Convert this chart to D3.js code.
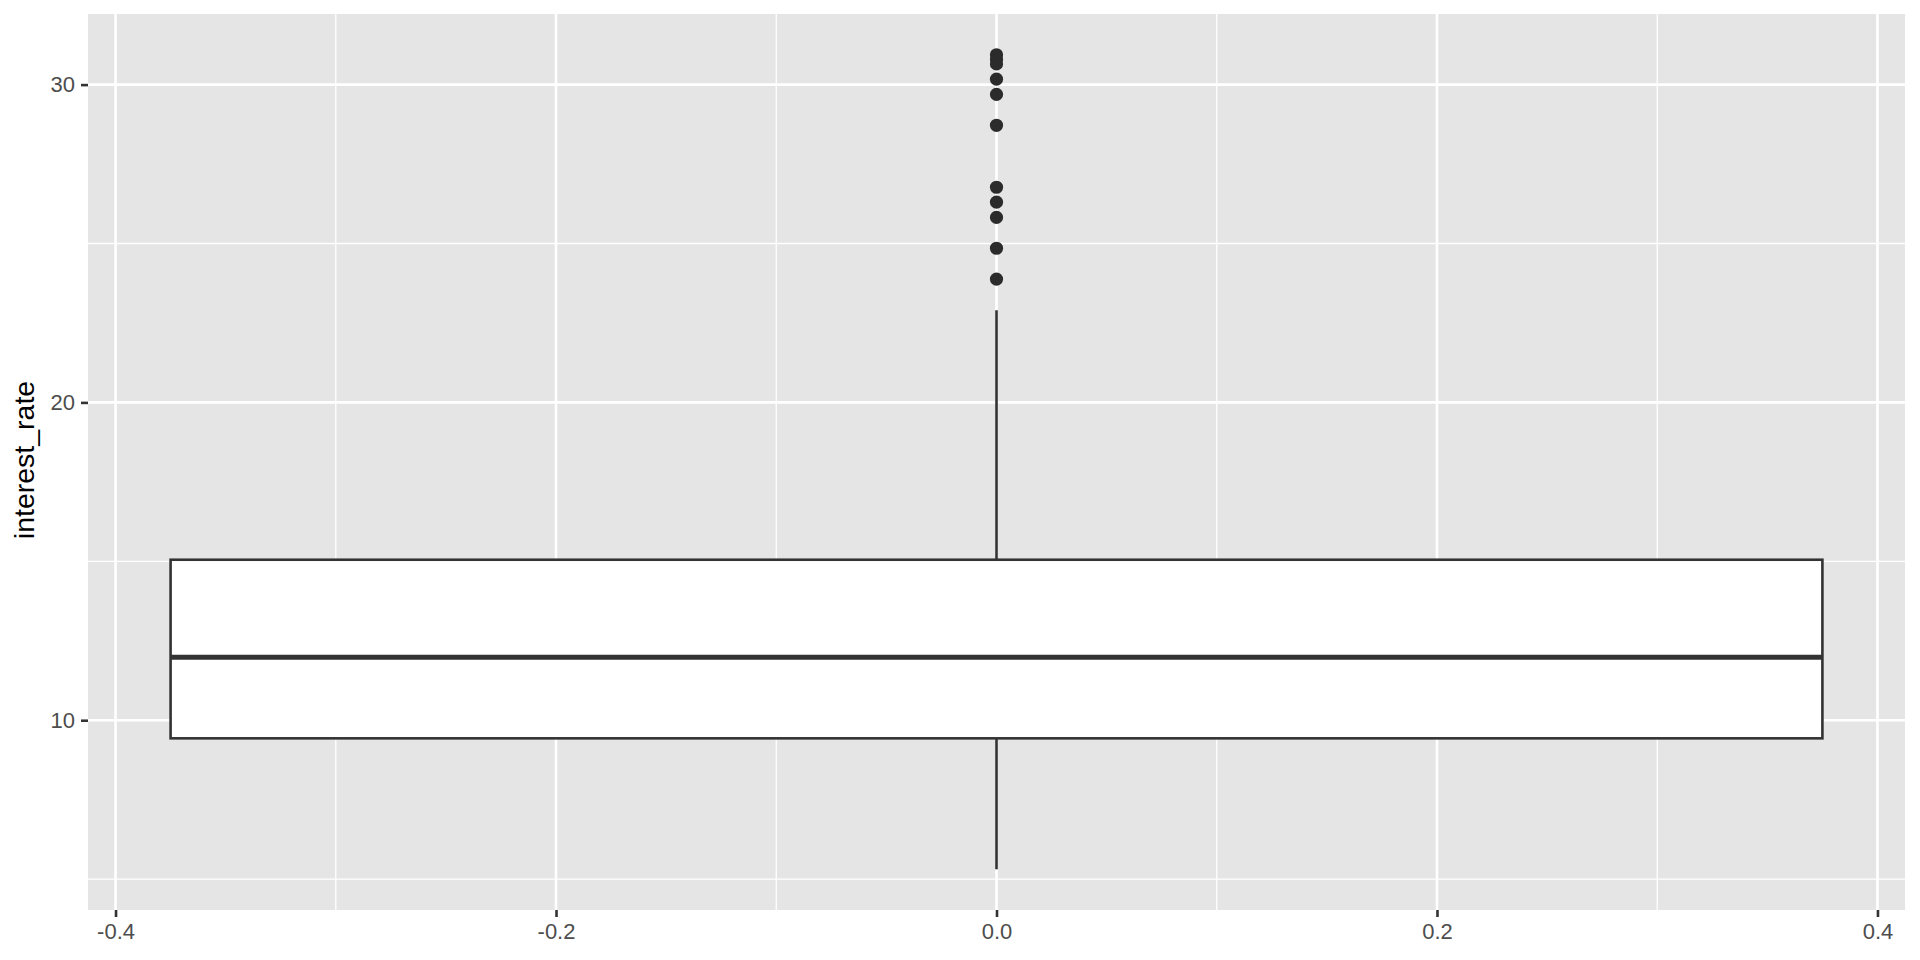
<!DOCTYPE html>
<html>
<head>
<meta charset="utf-8">
<script src="https://cdn.jsdelivr.net/npm/d3@7"></script>
<style>
  html, body { margin: 0; padding: 0; background: #ffffff; }
  svg { display: block; }
  text { font-family: "Liberation Sans", Arial, Helvetica, sans-serif; }
</style>
</head>
<body>
<svg id="chart" width="1920" height="960"></svg>
<script>
// ---- Data ----
const boxCenter = [0];
const boxWidth = [0.75];
const lowerWhisker = [5.31];
const q1 = [9.43];
const median = [11.98];
const q3 = [15.05];
const upperWhisker = [22.90];
const outliers = [30.94, 30.79, 30.65, 30.17, 29.69, 28.72, 26.77, 26.30, 25.82, 24.85, 23.88];
const xTicks = [-0.4, -0.2, 0.0, 0.2, 0.4];
const xMinor = [-0.3, -0.1, 0.1, 0.3];
const yTicks = [10, 20, 30];
const yMinor = [5, 15, 25];
const yTitle = "interest_rate";

// ---- Layout ----
const panel = { left: 88, right: 1905, top: 14, bottom: 910 };
const svg = d3.select("#chart");

const xLo = boxCenter[0] - boxWidth[0] / 2, xHi = boxCenter[0] + boxWidth[0] / 2;
const xPad = (xHi - xLo) * 0.05;
const x = d3.scaleLinear().domain([xLo - xPad, xHi + xPad]).range([panel.left, panel.right]);

const yLo = d3.min([lowerWhisker[0], ...outliers]);
const yHi = d3.max([upperWhisker[0], ...outliers]);
const yPad = (yHi - yLo) * 0.05;
const y = d3.scaleLinear().domain([yLo - yPad, yHi + yPad]).range([panel.bottom, panel.top]);

// panel background
svg.append("rect")
  .attr("x", panel.left).attr("y", panel.top)
  .attr("width", panel.right - panel.left).attr("height", panel.bottom - panel.top)
  .attr("fill", "#E5E5E5");

const grid = svg.append("g");
// minor grid
grid.selectAll(".xminor").data(xMinor).enter().append("line")
  .attr("x1", d => x(d)).attr("x2", d => x(d))
  .attr("y1", panel.top).attr("y2", panel.bottom)
  .attr("stroke", "#ffffff").attr("stroke-width", 1.3);
grid.selectAll(".yminor").data(yMinor).enter().append("line")
  .attr("y1", d => y(d)).attr("y2", d => y(d))
  .attr("x1", panel.left).attr("x2", panel.right)
  .attr("stroke", "#ffffff").attr("stroke-width", 1.3);
// major grid
grid.selectAll(".xmajor").data(xTicks).enter().append("line")
  .attr("x1", d => x(d)).attr("x2", d => x(d))
  .attr("y1", panel.top).attr("y2", panel.bottom)
  .attr("stroke", "#ffffff").attr("stroke-width", 2.6);
grid.selectAll(".ymajor").data(yTicks).enter().append("line")
  .attr("y1", d => y(d)).attr("y2", d => y(d))
  .attr("x1", panel.left).attr("x2", panel.right)
  .attr("stroke", "#ffffff").attr("stroke-width", 2.6);

// ---- Boxplot ----
const lineCol = "#333333";
const g = svg.append("g");
const cx = x(boxCenter[0]);
// whiskers
g.append("line").attr("x1", cx).attr("x2", cx)
  .attr("y1", y(q3[0])).attr("y2", y(upperWhisker[0]))
  .attr("stroke", lineCol).attr("stroke-width", 2.6);
g.append("line").attr("x1", cx).attr("x2", cx)
  .attr("y1", y(q1[0])).attr("y2", y(lowerWhisker[0]))
  .attr("stroke", lineCol).attr("stroke-width", 2.6);
// box
g.append("rect")
  .attr("x", x(xLo)).attr("width", x(xHi) - x(xLo))
  .attr("y", y(q3[0])).attr("height", y(q1[0]) - y(q3[0]))
  .attr("fill", "#ffffff").attr("stroke", lineCol).attr("stroke-width", 2.6);
// median
g.append("line").attr("x1", x(xLo)).attr("x2", x(xHi))
  .attr("y1", y(median[0])).attr("y2", y(median[0]))
  .attr("stroke", lineCol).attr("stroke-width", 5);
// outliers
g.selectAll("circle").data(outliers).enter().append("circle")
  .attr("cx", cx).attr("cy", d => y(d)).attr("r", 6.6)
  .attr("fill", "#2B2B2B");

// ---- Axes ----
const xAxis = d3.axisBottom(x).tickValues(xTicks).tickSize(7).tickPadding(6)
  .tickFormat(d3.format(".1f"));
const xa = svg.append("g").attr("transform", `translate(0,${panel.bottom})`).call(xAxis);
xa.select(".domain").remove();
xa.selectAll(".tick line").attr("stroke", lineCol).attr("stroke-width", 2.6);
xa.selectAll(".tick text").attr("fill", "#4D4D4D").attr("font-size", 22)
  .attr("font-family", "Liberation Sans, Arial, sans-serif")
  .text(d => d3.format(".1f")(d).replace("−", "-"));

const yAxis = d3.axisLeft(y).tickValues(yTicks).tickSize(7).tickPadding(6);
const ya = svg.append("g").attr("transform", `translate(${panel.left},0)`).call(yAxis);
ya.select(".domain").remove();
ya.selectAll(".tick line").attr("stroke", lineCol).attr("stroke-width", 2.6);
ya.selectAll(".tick text").attr("fill", "#4D4D4D").attr("font-size", 22)
  .attr("font-family", "Liberation Sans, Arial, sans-serif");

// y title
svg.append("text")
  .attr("transform", `translate(34,${(panel.top + panel.bottom) / 2 - 2}) rotate(-90)`)
  .attr("text-anchor", "middle")
  .attr("font-size", 28.5)
  .attr("fill", "#000000")
  .text(yTitle);
</script>
</body>
</html>
